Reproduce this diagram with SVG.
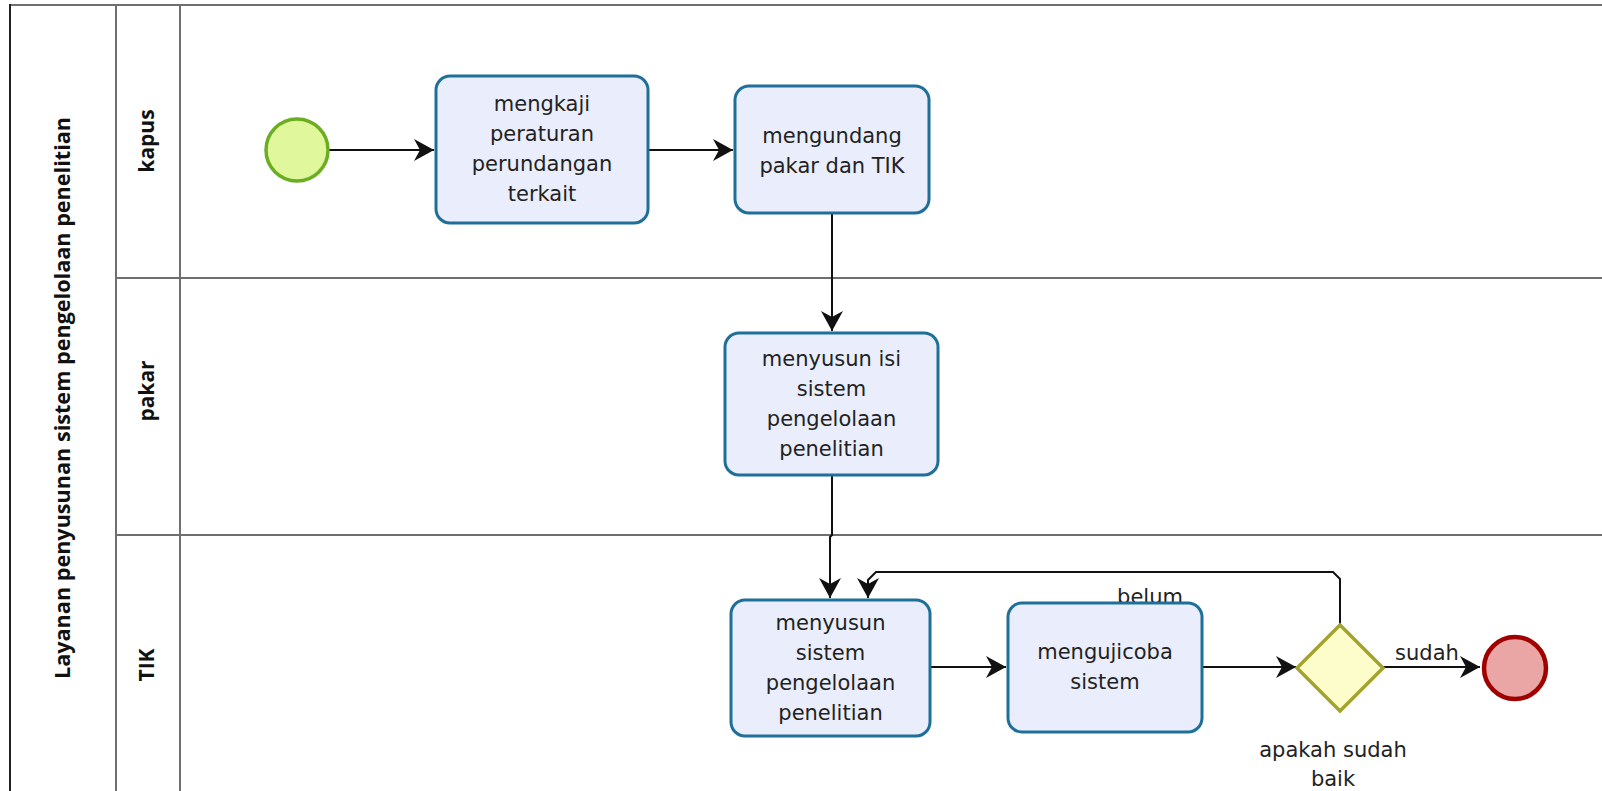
<svg xmlns="http://www.w3.org/2000/svg" width="1602" height="791" viewBox="0 0 1602 791">
<style>
.lane{stroke:#6f6f6f;stroke-width:2;fill:none}
.task{fill:#eaeefc;stroke:#1f6f98;stroke-width:3}
.t{font-family:"DejaVu Sans",sans-serif;font-size:21px;fill:#222;text-anchor:middle}
.lbl{font-family:"Open Sans","DejaVu Sans",sans-serif;font-size:21px;font-weight:bold;fill:#111;text-anchor:middle}
.edge{stroke:#111;stroke-width:2;fill:none}
</style>
<defs>
<marker id="arr" markerUnits="userSpaceOnUse" markerWidth="22" markerHeight="22" refX="20" refY="11" orient="auto" viewBox="0 0 22 22">
<path d="M0,0 L20,11 L0,22 L6,11 z" fill="#111"/>
</marker>
</defs>
<rect width="1602" height="791" fill="#ffffff"/>
<g id="pool">
<line x1="10" y1="5" x2="1602" y2="5" class="lane"/>
<line x1="10" y1="4" x2="10" y2="791" stroke="#222" stroke-width="2"/>
<line x1="116" y1="5" x2="116" y2="791" class="lane"/>
<line x1="180" y1="5" x2="180" y2="791" class="lane"/>
<line x1="116" y1="278" x2="1602" y2="278" class="lane"/>
<line x1="116" y1="535" x2="1602" y2="535" class="lane"/>
<text class="lbl" transform="translate(70,398) rotate(-90)" textLength="562" lengthAdjust="spacingAndGlyphs">Layanan penyusunan sistem pengelolaan penelitian</text>
</g>
<g id="lane-kapus"><text class="lbl" transform="translate(154,141) rotate(-90)">kapus</text></g>
<g id="lane-pakar"><text class="lbl" transform="translate(154,391) rotate(-90)">pakar</text></g>
<g id="lane-tik"><text class="lbl" transform="translate(154,665) rotate(-90)">TIK</text></g>

<g id="connectors">
<path class="edge" d="M329,150 H434" marker-end="url(#arr)"/>
<path class="edge" d="M648,150 H733" marker-end="url(#arr)"/>
<path class="edge" d="M832,213 V331" marker-end="url(#arr)"/>
<path class="edge" d="M832,475 V535 L830,537 V598" marker-end="url(#arr)"/>
<path class="edge" d="M930,667 H1006" marker-end="url(#arr)"/>
<path class="edge" d="M1202,667 H1296" marker-end="url(#arr)"/>
<path class="edge" d="M1383,667 H1480" marker-end="url(#arr)"/>
<path class="edge" d="M1340,625 V579 L1333,572 H876 L868,580 V598" marker-end="url(#arr)"/>
<text class="t" x="1150" y="604">belum</text>
<text class="t" x="1427" y="660">sudah</text>
</g>

<g id="start"><circle cx="297" cy="150" r="31" fill="#e0f79b" stroke="#6bae22" stroke-width="3.5"/></g>

<g id="task1">
<rect class="task" x="436" y="76" width="212" height="147" rx="14"/>
<text class="t" x="542" y="111">mengkaji</text>
<text class="t" x="542" y="141">peraturan</text>
<text class="t" x="542" y="171">perundangan</text>
<text class="t" x="542" y="201">terkait</text>
</g>
<g id="task2">
<rect class="task" x="735" y="86" width="194" height="127" rx="14"/>
<text class="t" x="832" y="143">mengundang</text>
<text class="t" x="832" y="173">pakar dan TIK</text>
</g>
<g id="task3">
<rect class="task" x="725" y="333" width="213" height="142" rx="14"/>
<text class="t" x="831.5" y="366">menyusun isi</text>
<text class="t" x="831.5" y="396">sistem</text>
<text class="t" x="831.5" y="426">pengelolaan</text>
<text class="t" x="831.5" y="456">penelitian</text>
</g>
<g id="task4">
<rect class="task" x="731" y="600" width="199" height="136" rx="14"/>
<text class="t" x="830.5" y="630">menyusun</text>
<text class="t" x="830.5" y="660">sistem</text>
<text class="t" x="830.5" y="690">pengelolaan</text>
<text class="t" x="830.5" y="720">penelitian</text>
</g>
<g id="task5">
<rect class="task" x="1008" y="603" width="194" height="129" rx="14"/>
<text class="t" x="1105" y="659">mengujicoba</text>
<text class="t" x="1105" y="689">sistem</text>
</g>
<g id="gateway">
<polygon points="1340,625 1383,668 1340,711 1297,668" fill="#fdfdcb" stroke="#a3a330" stroke-width="3.5"/>
<text class="t" x="1333" y="757">apakah sudah</text>
<text class="t" x="1333" y="786">baik</text>
</g>
<g id="end"><circle cx="1515" cy="668" r="31" fill="#eaa5a5" stroke="#a00000" stroke-width="4.5"/></g>
</svg>
